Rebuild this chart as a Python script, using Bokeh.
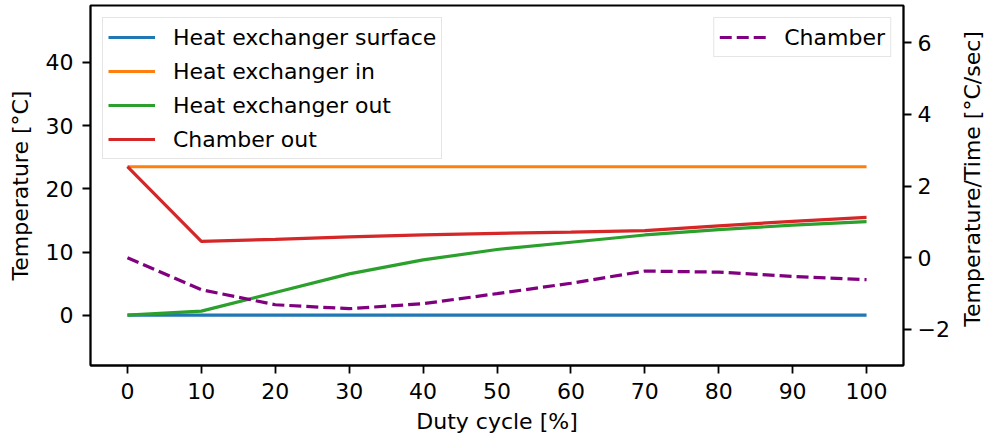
import math
from bokeh.plotting import figure
from bokeh.layouts import row
from bokeh.models import Range1d, LinearAxis, Legend, LegendItem, FixedTicker
from bokeh.core.properties import value
from bokeh.embed import file_html
from bokeh.resources import INLINE

# ---- data ----
duty = [0, 10, 20, 30, 40, 50, 60, 70, 80, 90, 100]
hx_surface = [0.0, 0.0, 0.0, 0.0, 0.0, 0.0, 0.0, 0.0, 0.0, 0.0, 0.0]
hx_in = [23.5, 23.5, 23.5, 23.5, 23.5, 23.5, 23.5, 23.5, 23.5, 23.5, 23.5]
hx_out = [0.0, 0.65, 3.6, 6.55, 8.75, 10.4, 11.55, 12.7, 13.55, 14.25, 14.8]
chamber_out = [23.5, 11.7, 12.0, 12.4, 12.7, 12.95, 13.15, 13.4, 14.15, 14.85, 15.47]
chamber_rate = [0.0, -0.89, -1.31, -1.42, -1.28, -1.0, -0.71, -0.37, -0.40, -0.52, -0.61]

x_ticks = [0, 10, 20, 30, 40, 50, 60, 70, 80, 90, 100]
left_ticks = [0, 10, 20, 30, 40]
right_ticks = [-2, 0, 2, 4, 6]
right_title = "Temperature/Time [°C/sec]"

FONT = "DejaVu Sans"
FS = "22px"
LW = 3.2

p = figure(width=956, height=438, output_backend="svg", toolbar_location=None,
           x_range=Range1d(-5, 105), y_range=Range1d(-7.96, 49.02),
           min_border_left=90, min_border_right=53, min_border_top=5,
           min_border_bottom=73)
p.extra_y_ranges = {"rate": Range1d(-3.005, 7.04)}

p.xgrid.visible = False
p.ygrid.visible = False
p.outline_line_color = "black"
p.outline_line_width = 1.8
p.background_fill_color = "white"
p.border_fill_color = "white"

colors = ["#1f77b4", "#ff7f0e", "#2ca02c", "#d62728"]
r1 = p.line(duty, hx_surface, line_color=colors[0], line_width=LW)
r2 = p.line(duty, hx_in, line_color=colors[1], line_width=LW)
r3 = p.line(duty, hx_out, line_color=colors[2], line_width=LW)
r4 = p.line(duty, chamber_out, line_color=colors[3], line_width=LW)
r5 = p.line(duty, chamber_rate, line_color="#800080", line_width=LW,
            line_dash="12 5", y_range_name="rate")

def style_axis(ax, standoff):
    ax.axis_line_color = "black"
    ax.axis_line_width = 1.8
    ax.major_tick_line_color = "black"
    ax.major_tick_line_width = 1.8
    ax.major_tick_out = 8
    ax.major_tick_in = 0
    ax.minor_tick_line_color = None
    ax.major_label_text_font = FONT
    ax.major_label_text_font_size = FS
    ax.major_label_text_color = "black"
    ax.axis_label_text_font = FONT
    ax.axis_label_text_font_size = FS
    ax.axis_label_text_font_style = "normal"
    ax.axis_label_text_color = "black"
    ax.major_label_standoff = standoff

xa = p.xaxis[0]
style_axis(xa, 9)
xa.ticker = FixedTicker(ticks=x_ticks)
xa.axis_label = "Duty cycle [%]"
xa.axis_label_standoff = 7

ya = p.yaxis[0]
style_axis(ya, 9)
ya.ticker = FixedTicker(ticks=left_ticks)
ya.axis_label = "Temperature [°C]"
ya.axis_label_standoff = 10

ra = LinearAxis(y_range_name="rate")
style_axis(ra, 6)
ra.ticker = FixedTicker(ticks=right_ticks)
ra.major_label_overrides = {-2: "\u22122"}
p.add_layout(ra, "right")

def style_legend(lg):
    lg.label_text_font = FONT
    lg.label_text_font_size = FS
    lg.label_text_color = "black"
    lg.border_line_color = "#cccccc"
    lg.border_line_width = 1.5
    lg.background_fill_alpha = 0.8
    lg.margin = 12
    lg.padding = 5
    lg.spacing = 6
    lg.glyph_height = 28
    lg.label_height = 28
    lg.glyph_width = 47
    lg.label_standoff = 18

leg1 = Legend(items=[LegendItem(label="Heat exchanger surface", renderers=[r1]),
                     LegendItem(label="Heat exchanger in", renderers=[r2]),
                     LegendItem(label="Heat exchanger out", renderers=[r3]),
                     LegendItem(label="Chamber out", renderers=[r4])],
              location="top_left")
style_legend(leg1)
leg2 = Legend(items=[LegendItem(label="Chamber", renderers=[r5])],
              location="top_right")
style_legend(leg2)
p.add_layout(leg1)
p.add_layout(leg2)

# narrow strip holding the right-hand axis title (reads bottom-to-top)
p2 = figure(width=30, height=438, output_backend="svg", toolbar_location=None,
            x_range=Range1d(0, 30), y_range=Range1d(0, 438),
            x_axis_location=None, y_axis_location=None, min_border=0)
p2.xgrid.visible = False
p2.ygrid.visible = False
p2.outline_line_color = None
p2.background_fill_color = "white"
p2.border_fill_color = "white"
p2.text(x=[16], y=[227], text=[right_title], angle=math.pi / 2,
        text_align="center", text_baseline="middle",
        text_font=value(FONT), text_font_size=value(FS), text_color="black")

layout = row(p, p2)
open("out.html", "w").write(file_html(layout, INLINE))
